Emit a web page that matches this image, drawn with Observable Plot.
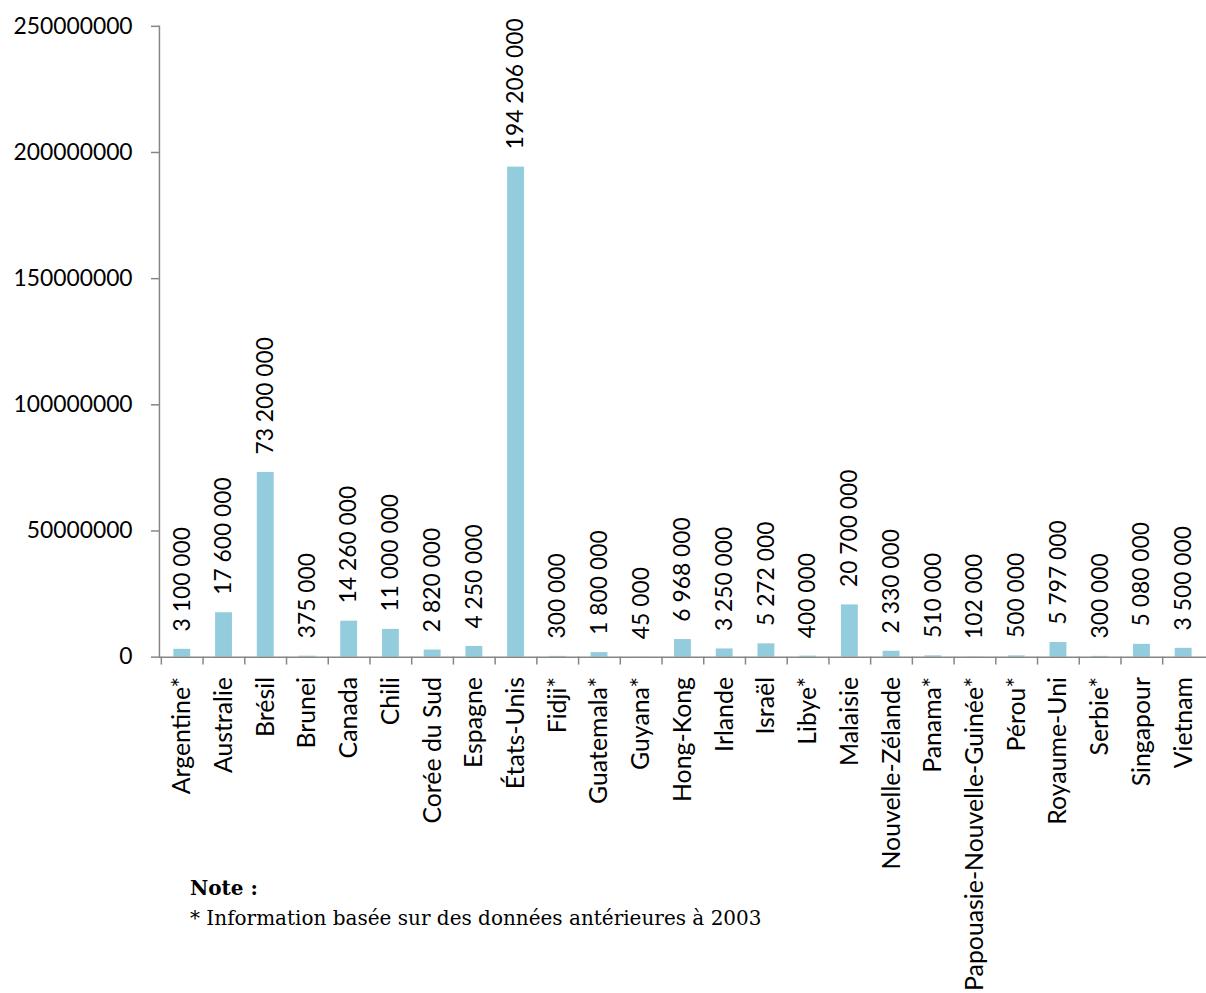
<!DOCTYPE html>
<html><head><meta charset="utf-8">
<script src="https://cdn.jsdelivr.net/npm/d3@7"></script>
<script src="https://cdn.jsdelivr.net/npm/@observablehq/plot@0.6"></script>
<style>
body{margin:0;overflow:hidden;background:#fff;}
#wrap{position:relative;width:1206px;height:993px;overflow:hidden;}
.note{position:absolute;left:190px;font-family:"DejaVu Serif",serif;font-size:20px;color:#000;white-space:nowrap;line-height:1;}
</style></head><body><div id="wrap"></div>
<script>
const countries = ["Argentine*","Australie","Brésil","Brunei","Canada","Chili","Corée du Sud","Espagne","États-Unis","Fidji*","Guatemala*","Guyana*","Hong-Kong","Irlande","Israël","Libye*","Malaisie","Nouvelle-Zélande","Panama*","Papouasie-Nouvelle-Guinée*","Pérou*","Royaume-Uni","Serbie*","Singapour","Vietnam"];
const values = [3100000,17600000,73200000,375000,14260000,11000000,2820000,4250000,194206000,300000,1800000,45000,6968000,3250000,5272000,400000,20700000,2330000,510000,102000,500000,5797000,300000,5080000,3500000];
const yTicks = [0,50000000,100000000,150000000,200000000,250000000];
const noteTitle = "Note :";
const noteText = "* Information basée sur des données antérieures à 2003";

const data = countries.map((c,i)=>({country:c, value:values[i]}));
const fmt = v => d3.format(",")(v).replace(/,/g, " ");
const W = 1214, ML = 160;
const step = (W - ML) / countries.length;
const axisGray = "#868686";

const chart = Plot.plot({
  width: W, height: 993,
  marginLeft: ML, marginRight: 0, marginTop: 26, marginBottom: 332,
  style: {fontFamily: "Lato, sans-serif", fontSize: "23px", background: "white", overflow: "visible"},
  x: {domain: countries, padding: 0, axis: null},
  y: {domain: [0, 250000000], axis: null},
  marks: [
    Plot.barY(data, {x: "country", y: "value", fill: "#93CDDD", insetLeft: 12.5, insetRight: 12.5}),
    Plot.ruleY([0], {stroke: axisGray, strokeWidth: 1.5}),
    Plot.frame({anchor: "left", stroke: axisGray, strokeWidth: 1.5}),
    Plot.axisY({ticks: yTicks, tickFormat: d3.format("d"), tickSize: 8, tickPadding: 19, stroke: axisGray, fill: "black", strokeWidth: 1.5, label: null}),
    Plot.axisX({tickSize: 8, tickFormat: () => "", stroke: axisGray, strokeWidth: 1.5, dx: -step/2, label: null}),
    Plot.axisX({tickSize: 0, tickPadding: 20, tickRotate: -90, fill: "black", fontSize: 25, label: null}),
    Plot.text(data, {x: "country", y: "value", text: d => fmt(d.value), rotate: -90, textAnchor: "start", lineAnchor: "middle", dy: -18, fill: "black"})
  ]
});
const wrap = document.getElementById("wrap");
wrap.appendChild(chart);
const n1 = document.createElement("div");
n1.className = "note"; n1.style.top = "878px"; n1.style.fontWeight = "bold"; n1.textContent = noteTitle;
const n2 = document.createElement("div");
n2.className = "note"; n2.style.top = "908px"; n2.textContent = noteText;
wrap.appendChild(n1); wrap.appendChild(n2);
</script>
</body></html>
